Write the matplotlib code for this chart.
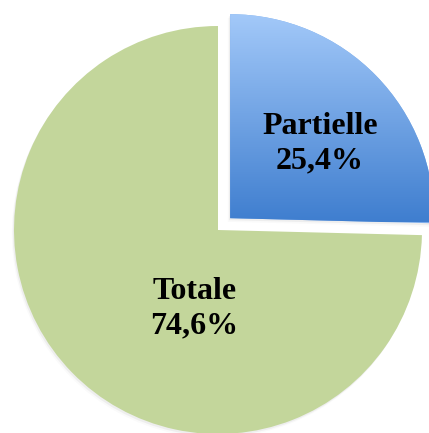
import numpy as np
import matplotlib
matplotlib.use("Agg")
import matplotlib.pyplot as plt
from matplotlib.colors import LinearSegmentedColormap
import matplotlib.patches as mpatches

categories = ["Partielle", "Totale"]
values = [25.4, 74.6]
pct_labels = ["25,4%", "74,6%"]

fig = plt.figure(figsize=(4.29, 4.33), dpi=100)
ax = fig.add_axes([0, 0, 1, 1])
R = 204.0
cx, cy = 218.0, 230.0
W, H = 429.0, 433.0

wedges, texts = ax.pie(values, startangle=90, counterclock=False,
                       explode=[0.083, 0.0], radius=1.0,
                       colors=["#7FAEEB", "#C3D69B"],
                       labels=[f"{c}\n{p}" for c, p in zip(categories, pct_labels)],
                       labeldistance=0.5,
                       wedgeprops=dict(linewidth=0),
                       textprops=dict(family="Liberation Serif", fontweight="bold",
                                      fontsize=23, ha="center", va="center",
                                      color="black", linespacing=1.22))
ax.set_xlim(-cx / R, (W - cx) / R)
ax.set_ylim(-(H - cy) / R, cy / R)
ax.set_aspect("equal")
ax.axis("off")

# subtle shadows
for w in wedges:
    for k, a in [(0.010, 0.09), (0.018, 0.04)]:
        sh = mpatches.Wedge((w.center[0] - k * 0.6, w.center[1] - k), w.r, w.theta1, w.theta2,
                            facecolor="gray", edgecolor="none", alpha=a, zorder=w.get_zorder() - 0.5)
        ax.add_patch(sh)

# gradient fill for blue wedge
blue = wedges[0]
cmap = LinearSegmentedColormap.from_list("bl", ["#3F7ECF", "#A3C9F9"])
bx, by = blue.center
grad = np.linspace(0, 1, 256).reshape(-1, 1)
im = ax.imshow(grad, cmap=cmap, origin="lower", aspect="auto",
               extent=[bx, bx + 1.0, by - 0.02, by + 1.0], zorder=blue.get_zorder() + 0.1)
im.set_clip_path(blue)

# label positions
texts[0].set_position((bx + 0.44, by + 0.365))
texts[1].set_position((-0.115, -0.385))
for t in texts:
    t.set_zorder(5)

fig.savefig("out.png", dpi=100)
